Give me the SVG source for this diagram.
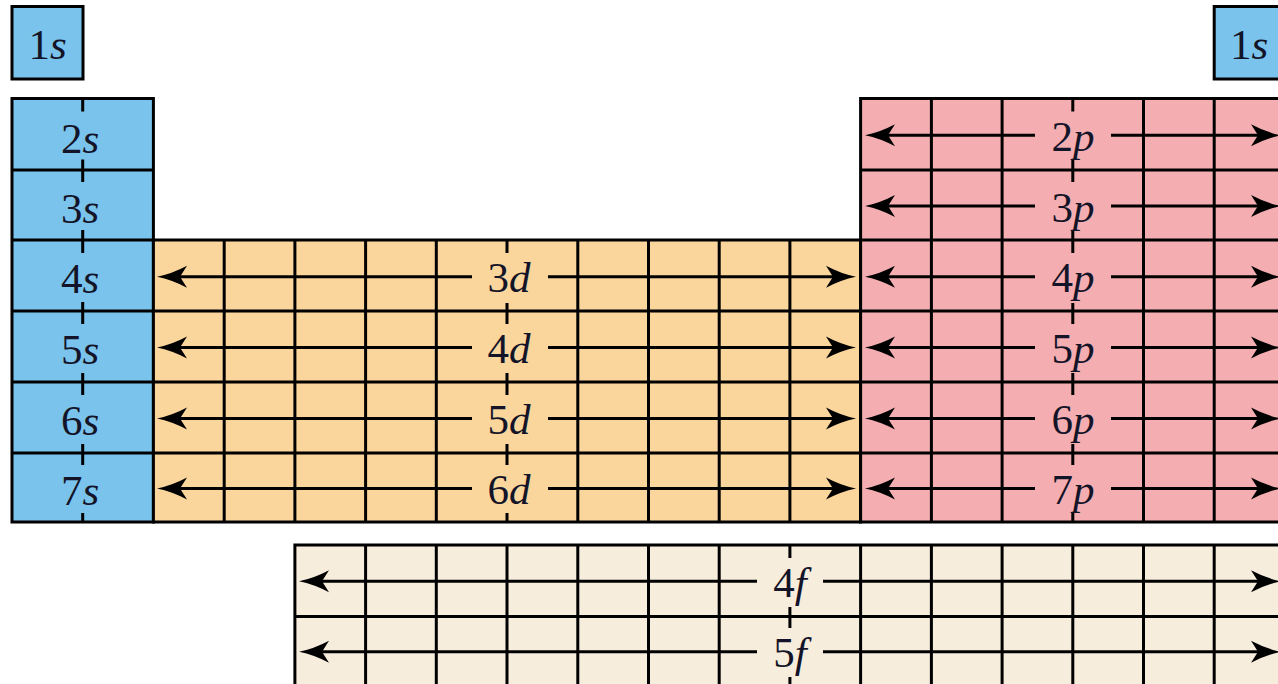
<svg xmlns="http://www.w3.org/2000/svg" width="1278" height="684" viewBox="0 0 1278 684">
<defs>
<style>
.bs{fill:#7AC3EC;stroke:#000;stroke-width:3}
.bd{fill:#FAD59C;stroke:#000;stroke-width:3}
.bp{fill:#F4AEB1;stroke:#000;stroke-width:3}
.bf{fill:#F7EDDD;stroke:#000;stroke-width:3}
.gl{fill:none;stroke:#000;stroke-width:3}
.ar{fill:none;stroke:#000;stroke-width:3;marker-start:url(#ah);marker-end:url(#ah)}
.cs{fill:#7AC3EC}.cd{fill:#FAD59C}.cp{fill:#F4AEB1}.cf{fill:#F7EDDD}
.t{font-family:'Liberation Serif','DejaVu Serif',serif;font-size:43px;fill:#141428;text-anchor:middle}
.i{font-style:italic}
</style>
<marker id="ah" viewBox="-32 -12 34 24" refX="-10" refY="0" markerWidth="34" markerHeight="24" markerUnits="userSpaceOnUse" orient="auto-start-reverse">
<path d="M0 0 Q-15 -3 -30 -11 L-23 0 L-30 11 Q-15 3 0 0 Z" fill="#000"/>
</marker>
</defs>
<rect width="1278" height="684" fill="#fff"/>

<g id="box-1s-left"><rect class="bs" x="12" y="6.5" width="71" height="72.5"/></g>
<g id="box-1s-right"><rect class="bs" x="1214.2" y="6.5" width="71" height="72.5"/></g>

<g id="block-s">
<rect class="bs" x="12" y="98.5" width="141.4" height="423.5"/>
<path class="gl" d="M12 170H153.4M12 240H153.4M12 311H153.4M12 382H153.4M12 453H153.4M82.7 98.5V522"/>
</g>

<g id="block-d">
<rect class="bd" x="153.4" y="240" width="707.2" height="282"/>
<path class="gl" d="M153.4 311H860.6M153.4 382H860.6M153.4 453H860.6M224.2 240V522M294.9 240V522M365.6 240V522M436.3 240V522M507 240V522M577.8 240V522M648.5 240V522M719.2 240V522M789.9 240V522"/>
</g>

<g id="block-p">
<rect class="bp" x="860.6" y="98.5" width="424.4" height="423.5"/>
<path class="gl" d="M860.6 170H1285M860.6 240H1285M860.6 311H1285M860.6 382H1285M860.6 453H1285M931.4 98.5V522M1002.1 98.5V522M1072.8 98.5V522M1143.5 98.5V522M1214.2 98.5V522"/>
</g>

<g id="block-f">
<rect class="bf" x="294.9" y="545" width="990" height="143"/>
<path class="gl" d="M294.9 616.5H1285M365.6 545V688M436.3 545V688M507 545V688M577.8 545V688M648.5 545V688M719.2 545V688M789.9 545V688M860.6 545V688M931.4 545V688M1002.1 545V688M1072.8 545V688M1143.5 545V688M1214.2 545V688"/>
</g>

<g id="connectors">
<line class="ar" x1="167" y1="276.8" x2="846" y2="276.8"/>
<line class="ar" x1="167" y1="347.5" x2="846" y2="347.5"/>
<line class="ar" x1="167" y1="418.5" x2="846" y2="418.5"/>
<line class="ar" x1="167" y1="488.5" x2="846" y2="488.5"/>
<line class="ar" x1="875" y1="135.3" x2="1271" y2="135.3"/>
<line class="ar" x1="875" y1="206" x2="1271" y2="206"/>
<line class="ar" x1="875" y1="276.8" x2="1271" y2="276.8"/>
<line class="ar" x1="875" y1="347.5" x2="1271" y2="347.5"/>
<line class="ar" x1="875" y1="418.5" x2="1271" y2="418.5"/>
<line class="ar" x1="875" y1="488.5" x2="1271" y2="488.5"/>
<line class="ar" x1="309" y1="581.3" x2="1271" y2="581.3"/>
<line class="ar" x1="309" y1="651.8" x2="1271" y2="651.8"/>
</g>

<g id="labels" font-family="Liberation Serif, DejaVu Serif, serif">
<g id="lbl-1s-left"><text class="t" x="47.5" y="59">1<tspan class="i">s</tspan></text></g>
<g id="lbl-1s-right"><text class="t" x="1249" y="59">1<tspan class="i">s</tspan></text></g>

<g id="lbl-2s"><rect class="cs" x="44" y="111.5" width="76" height="48"/><text class="t" x="80" y="152.5">2<tspan class="i">s</tspan></text></g>
<g id="lbl-3s"><rect class="cs" x="44" y="182" width="76" height="48"/><text class="t" x="80" y="222.5">3<tspan class="i">s</tspan></text></g>
<g id="lbl-4s"><rect class="cs" x="44" y="253" width="76" height="49"/><text class="t" x="80" y="293">4<tspan class="i">s</tspan></text></g>
<g id="lbl-5s"><rect class="cs" x="44" y="324" width="76" height="49"/><text class="t" x="80" y="364">5<tspan class="i">s</tspan></text></g>
<g id="lbl-6s"><rect class="cs" x="44" y="395" width="76" height="49"/><text class="t" x="80" y="435">6<tspan class="i">s</tspan></text></g>
<g id="lbl-7s"><rect class="cs" x="44" y="465" width="76" height="48"/><text class="t" x="80" y="505">7<tspan class="i">s</tspan></text></g>

<g id="lbl-3d"><rect class="cd" x="472" y="253" width="76" height="50"/><text class="t" x="509" y="292">3<tspan class="i">d</tspan></text></g>
<g id="lbl-4d"><rect class="cd" x="472" y="324" width="76" height="49"/><text class="t" x="509" y="363">4<tspan class="i">d</tspan></text></g>
<g id="lbl-5d"><rect class="cd" x="472" y="395" width="76" height="49"/><text class="t" x="509" y="434">5<tspan class="i">d</tspan></text></g>
<g id="lbl-6d"><rect class="cd" x="472" y="465" width="76" height="48"/><text class="t" x="509" y="504">6<tspan class="i">d</tspan></text></g>

<g id="lbl-2p"><rect class="cp" x="1035" y="111.5" width="76" height="48"/><text class="t" x="1073" y="151">2<tspan class="i">p</tspan></text></g>
<g id="lbl-3p"><rect class="cp" x="1035" y="182" width="76" height="48"/><text class="t" x="1073" y="222">3<tspan class="i">p</tspan></text></g>
<g id="lbl-4p"><rect class="cp" x="1035" y="253" width="76" height="50"/><text class="t" x="1073" y="292">4<tspan class="i">p</tspan></text></g>
<g id="lbl-5p"><rect class="cp" x="1035" y="324" width="76" height="49"/><text class="t" x="1073" y="363">5<tspan class="i">p</tspan></text></g>
<g id="lbl-6p"><rect class="cp" x="1035" y="395" width="76" height="49"/><text class="t" x="1073" y="434">6<tspan class="i">p</tspan></text></g>
<g id="lbl-7p"><rect class="cp" x="1035" y="465" width="76" height="48"/><text class="t" x="1073" y="504">7<tspan class="i">p</tspan></text></g>

<g id="lbl-4f"><rect class="cf" x="757" y="558" width="66" height="49"/><text class="t" x="790" y="597">4<tspan class="i">f</tspan></text></g>
<g id="lbl-5f"><rect class="cf" x="757" y="628" width="66" height="49"/><text class="t" x="790" y="667">5<tspan class="i">f</tspan></text></g>
</g>
</svg>
